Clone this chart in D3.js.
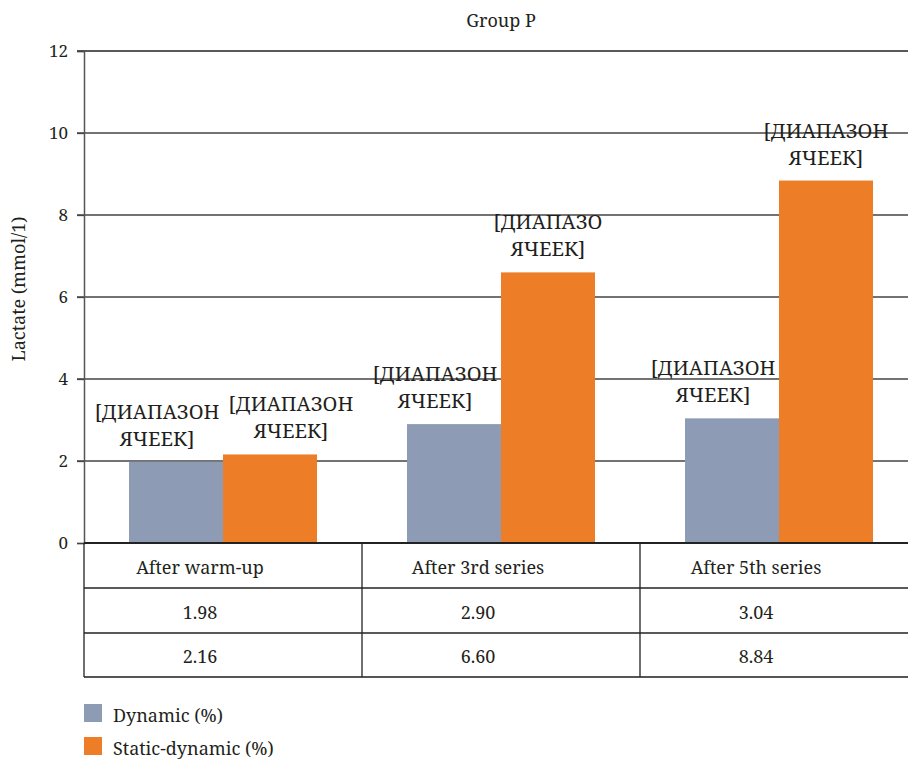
<!DOCTYPE html>
<html>
<head>
<meta charset="utf-8">
<script src="https://cdn.jsdelivr.net/npm/d3@7"></script>
<style>
  body { margin: 0; background: #fff; }
</style>
</head>
<body>
<div id="vis"></div>
<script>
// data
var categories = ['After warm-up', 'After 3rd series', 'After 5th series'];
var seriesNames = ['Dynamic (%)', 'Static-dynamic (%)'];
var dynamicVals = [1.98, 2.90, 3.04];
var staticVals = [2.16, 6.60, 8.84];
var dynamicLabels = ['[ДИАПАЗОН ЯЧЕЕК]', '[ДИАПАЗОН ЯЧЕЕК]', '[ДИАПАЗОН ЯЧЕЕК]'];
var staticLabels = ['[ДИАПАЗОН ЯЧЕЕК]', '[ДИАПАЗО ЯЧЕЕК]', '[ДИАПАЗОН ЯЧЕЕК]'];
var yTicks = [0, 2, 4, 6, 8, 10, 12];

var width = 908, height = 760;
var colors = ['#8d9bb4', '#ed7d26'];
var serif = '"Noto Serif", "Liberation Serif", serif';
var ink = '#231f20';

var svg = d3.select('#vis').append('svg')
  .attr('width', width)
  .attr('height', height);

// helper so every text gets the font inline
function txt(sel, size) {
  return sel.style('font-family', serif).style('font-size', size + 'px').attr('fill', ink);
}

// scales
var x0 = d3.scaleBand().domain(categories).range([84, 918]).padding(0);
var x1 = d3.scaleBand().domain(seriesNames)
  .range([0, x0.bandwidth()])
  .paddingInner(0).paddingOuter(0.479);
var y = d3.scaleLinear().domain([0, 12]).range([543, 51]);

// gridlines
svg.append('g').selectAll('line')
  .data(yTicks.filter(function(d) { return d > 0; }))
  .enter().append('line')
  .attr('x1', 77).attr('x2', width)
  .attr('y1', function(d) { return y(d); })
  .attr('y2', function(d) { return y(d); })
  .attr('stroke', function(d) { return d === 12 ? '#222' : '#444'; })
  .attr('stroke-width', 1.3);

// y axis
var yAxis = d3.axisLeft(y).tickValues(yTicks).tickSize(7).tickPadding(9);
var ya = svg.append('g').attr('transform', 'translate(84,0)').call(yAxis);
ya.select('.domain').attr('stroke', '#555').attr('stroke-width', 1.5);
ya.selectAll('.tick line').attr('stroke', '#444').attr('stroke-width', 1.3);
txt(ya.selectAll('.tick text'), 17);

// bars
var rows = categories.map(function(c, i) {
  return { cat: c, vals: [dynamicVals[i], staticVals[i]], labels: [dynamicLabels[i], staticLabels[i]] };
});

var grp = svg.append('g').selectAll('g')
  .data(rows)
  .enter().append('g')
  .attr('transform', function(d) { return 'translate(' + x0(d.cat) + ',0)'; });

grp.selectAll('rect')
  .data(function(d) { return d.vals.map(function(v, k) { return { s: seriesNames[k], v: v, k: k }; }); })
  .enter().append('rect')
  .attr('x', function(d) { return x1(d.s); })
  .attr('width', x1.bandwidth())
  .attr('y', function(d) { return y(d.v); })
  .attr('height', function(d) { return y(0) - y(d.v); })
  .attr('fill', function(d) { return colors[d.k]; });

// data labels (two lines above each bar, nudged apart when they would collide)
grp.each(function(row) {
  var g = d3.select(this);
  var close = Math.abs(row.vals[0] - row.vals[1]) < 1.5;
  row.vals.forEach(function(v, k) {
    var dx = k === 0 ? -19 : (close ? 21 : 0);
    var cx = x1(seriesNames[k]) + x1.bandwidth() / 2 + dx;
    var words = row.labels[k].split(' ');
    var t = txt(g.append('text').attr('text-anchor', 'middle'), 20);
    words.forEach(function(w, j) {
      t.append('tspan')
        .attr('x', cx)
        .attr('y', y(v) - 16 - (words.length - 1 - j) * 27)
        .text(w);
    });
  });
});

// title
txt(svg.append('text'), 18)
  .attr('x', (84 + 918) / 2)
  .attr('y', 27)
  .attr('text-anchor', 'middle')
  .text('Group P');

// y label
txt(svg.append('text'), 18)
  .attr('transform', 'translate(25,' + 289 + ') rotate(-90)')
  .attr('text-anchor', 'middle')
  .text('Lactate (mmol/1)');

// data table under the axis
var rowY = [543, 588, 633, 677];
var table = svg.append('g');
rowY.forEach(function(ry, i) {
  table.append('line')
    .attr('x1', 84).attr('x2', width)
    .attr('y1', ry).attr('y2', ry)
    .attr('stroke', i === rowY.length - 1 ? '#555' : '#222')
    .attr('stroke-width', i === 0 || i === rowY.length - 1 ? 1.8 : 1.3);
});
categories.forEach(function(c) {
  table.append('line')
    .attr('x1', x0(c)).attr('x2', x0(c))
    .attr('y1', 543).attr('y2', 677)
    .attr('stroke', '#222').attr('stroke-width', 1.3);
});
var cellText = [categories, dynamicVals.map(function(v) { return v.toFixed(2); }),
  staticVals.map(function(v) { return v.toFixed(2); })];
cellText.forEach(function(r, ri) {
  r.forEach(function(s, ci) {
    txt(table.append('text'), 18)
      .attr('x', x0(categories[ci]) + x0.bandwidth() / 2 - 23)
      .attr('y', (rowY[ri] + rowY[ri + 1]) / 2 + 8)
      .attr('text-anchor', 'middle')
      .text(s);
  });
});

// legend
var legend = svg.append('g').selectAll('g')
  .data(seriesNames)
  .enter().append('g')
  .attr('transform', function(d, i) { return 'translate(84,' + (704 + i * 33) + ')'; });
legend.append('rect')
  .attr('width', 18).attr('height', 18)
  .attr('fill', function(d, i) { return colors[i]; });
txt(legend.append('text'), 18)
  .attr('x', 29).attr('y', 18)
  .text(function(d) { return d; });
</script>
</body>
</html>
